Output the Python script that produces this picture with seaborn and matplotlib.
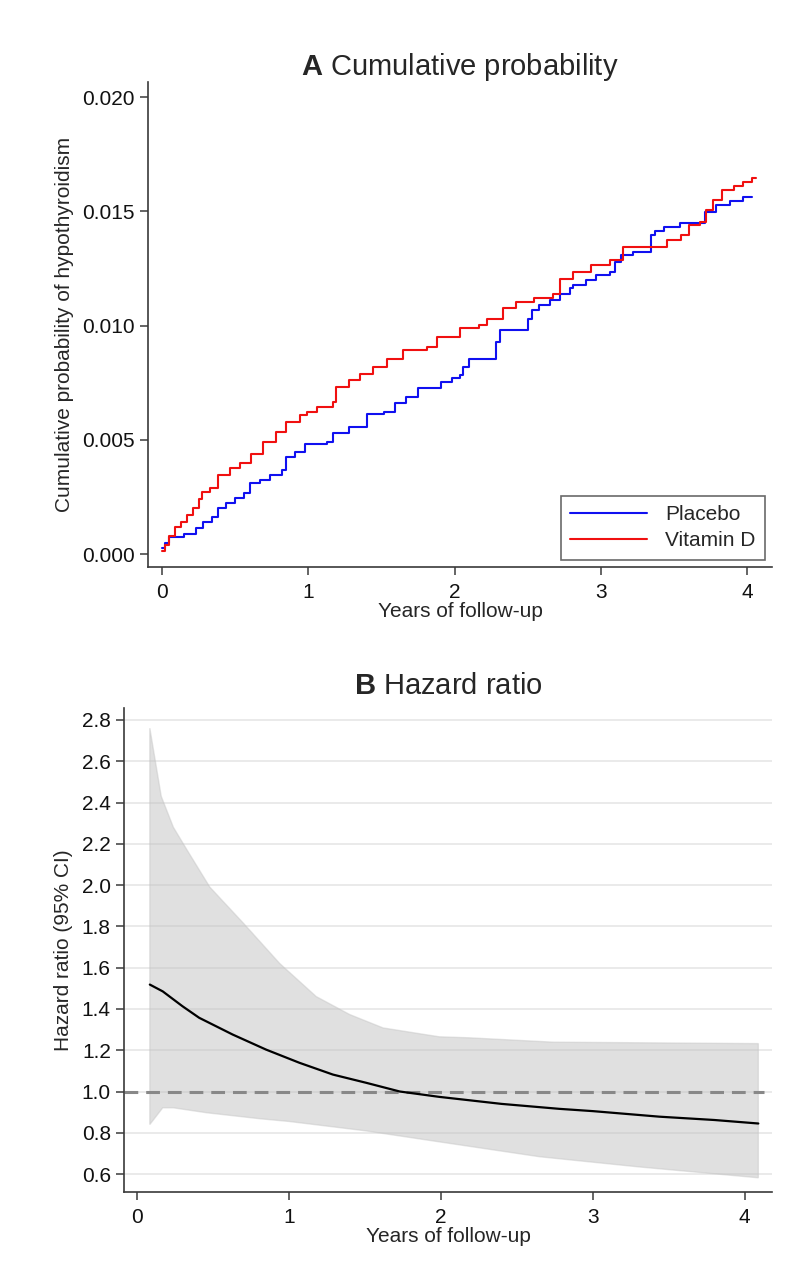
import numpy as np
import pandas as pd
import matplotlib
matplotlib.use("Agg")
import matplotlib.pyplot as plt
import seaborn as sns

# ---------------- data ----------------
vitd_t = [0.00, 0.02, 0.05, 0.09, 0.13, 0.17, 0.21, 0.25, 0.27, 0.33, 0.385, 0.465, 0.53, 0.61,
          0.69, 0.78, 0.85, 0.94, 0.99, 1.06, 1.17, 1.19, 1.28, 1.35, 1.44, 1.54, 1.65, 1.81,
          1.88, 2.04, 2.17, 2.22, 2.33, 2.42, 2.54, 2.67, 2.72, 2.81, 2.93, 3.06, 3.15, 3.45,
          3.55, 3.60, 3.68, 3.72, 3.77, 3.83, 3.91, 3.97, 4.03, 4.06]
vitd_p = [0.00014, 0.0004, 0.0008, 0.0012, 0.0014, 0.0017, 0.0020, 0.0024, 0.0027, 0.0029,
          0.00346, 0.00375, 0.00397, 0.0044, 0.0049, 0.00535, 0.00579, 0.00608, 0.00623,
          0.00645, 0.00666, 0.00732, 0.0076, 0.0079, 0.0082, 0.00856, 0.00893, 0.00907,
          0.0095, 0.0099, 0.01002, 0.01027, 0.01075, 0.01104, 0.01119, 0.0114, 0.01206,
          0.01235, 0.01265, 0.01287, 0.01345, 0.01374, 0.01396, 0.0144, 0.01454, 0.01505,
          0.01549, 0.01593, 0.0161, 0.01629, 0.01648, 0.01648]

plac_t = [0.00, 0.02, 0.05, 0.15, 0.23, 0.28, 0.34, 0.385, 0.44, 0.50, 0.56, 0.60, 0.67, 0.74,
          0.82, 0.85, 0.91, 0.98, 1.13, 1.17, 1.28, 1.40, 1.52, 1.59, 1.67, 1.75, 1.91, 1.98,
          2.04, 2.06, 2.10, 2.28, 2.31, 2.50, 2.53, 2.58, 2.65, 2.72, 2.79, 2.81, 2.90, 2.97,
          3.06, 3.10, 3.14, 3.22, 3.34, 3.37, 3.43, 3.54, 3.71, 3.79, 3.88, 3.97, 4.03]
plac_p = [0.00025, 0.0005, 0.00076, 0.0009, 0.00112, 0.00141, 0.00163, 0.0020, 0.00222,
          0.00244, 0.00266, 0.00309, 0.00324, 0.00346, 0.00368, 0.00426, 0.00448, 0.00484,
          0.0049, 0.00528, 0.00557, 0.00615, 0.00623, 0.0066, 0.00688, 0.00725, 0.00754,
          0.00769, 0.00786, 0.0082, 0.00856, 0.0093, 0.0098, 0.0103, 0.01068, 0.0109, 0.0111,
          0.0114, 0.01163, 0.0118, 0.0120, 0.0122, 0.01235, 0.01279, 0.01308, 0.01323,
          0.01396, 0.01415, 0.01432, 0.0145, 0.01498, 0.01527, 0.01546, 0.01561, 0.01561]

hr_t = [0.085, 0.17, 0.30, 0.41, 0.63, 0.85, 1.07, 1.29, 1.51, 1.73, 1.99, 2.40, 2.78, 3.00,
        3.44, 3.80, 4.09]
hr_v = [1.518, 1.485, 1.413, 1.357, 1.276, 1.203, 1.139, 1.082, 1.042, 1.000, 0.974, 0.940,
        0.916, 0.905, 0.878, 0.862, 0.845]

up_t = [0.085, 0.16, 0.24, 0.33, 0.48, 0.70, 0.94, 1.18, 1.40, 1.62, 1.86, 1.99, 2.19, 2.74, 4.09]
up_v = [2.76, 2.43, 2.28, 2.17, 1.99, 1.816, 1.62, 1.46, 1.373, 1.308, 1.28, 1.265, 1.26, 1.239, 1.232]

lo_t = [0.085, 0.17, 0.24, 0.46, 0.81, 1.00, 1.50, 2.00, 2.65, 3.30, 4.09]
lo_v = [0.84, 0.921, 0.921, 0.897, 0.868, 0.855, 0.81, 0.755, 0.684, 0.635, 0.582]

groups = ["Placebo", "Vitamin D"]
colors = ["#1010f0", "#f01010"]
x_ticks = [0, 1, 2, 3, 4]
yA_ticks = [0.000, 0.005, 0.010, 0.015, 0.020]
yB_ticks = [0.6, 0.8, 1.0, 1.2, 1.4, 1.6, 1.8, 2.0, 2.2, 2.4, 2.6, 2.8]

# ---------------- style ----------------
sns.set_theme(style="white")
plt.rcParams["font.family"] = ["Liberation Sans", "DejaVu Sans"]
plt.rcParams["mathtext.fontset"] = "custom"
plt.rcParams["mathtext.rm"] = "Liberation Sans"
plt.rcParams["mathtext.bf"] = "Liberation Sans:bold"

TICK_FS = 15
LAB_FS = 15
TITLE_FS = 21
SPINE_C = "#3a3a3a"

fig = plt.figure(figsize=(8, 12.83), dpi=100)
axA = fig.add_axes([0.185, 0.558, 0.78, 0.378])
axB = fig.add_axes([0.155, 0.0709, 0.81, 0.3773])

def style_axes(ax):
    for s in ["top", "right"]:
        ax.spines[s].set_visible(False)
    for s in ["left", "bottom"]:
        ax.spines[s].set_color(SPINE_C)
        ax.spines[s].set_linewidth(1.2)
    ax.tick_params(axis="both", which="major", direction="out", length=6, width=1.1,
                   color=SPINE_C, labelsize=TICK_FS, labelcolor="#111111",
                   left=True, bottom=True)
    ax.tick_params(axis="y", pad=3.5)
    ax.tick_params(axis="x", pad=5.5)

# ---------------- panel A ----------------
dfA = pd.concat([
    pd.DataFrame({"t": plac_t, "p": plac_p, "group": groups[0]}),
    pd.DataFrame({"t": vitd_t, "p": vitd_p, "group": groups[1]}),
])
sns.lineplot(data=dfA, x="t", y="p", hue="group", palette=dict(zip(groups, colors)),
             drawstyle="steps-post", linewidth=1.5, estimator=None, sort=False, ax=axA)
axA.set_xlim(-0.096, 4.17)
axA.set_ylim(-0.00057, 0.02066)
axA.set_xticks(x_ticks)
axA.set_yticks(yA_ticks)
axA.set_yticklabels([f"{v:.3f}" for v in yA_ticks])
style_axes(axA)
axA.set_xlabel("Years of follow-up", fontsize=LAB_FS, labelpad=0)
axA.set_ylabel("Cumulative probability of hypothyroidism", fontsize=LAB_FS, labelpad=6)
axA.set_title(r"$\mathbf{A}$ Cumulative probability", fontsize=TITLE_FS, pad=5)
leg = axA.legend(title=None, loc="lower right", fontsize=TICK_FS, frameon=True,
                 fancybox=False, handlelength=3.7, handletextpad=0.85, labelspacing=0.35,
                 borderaxespad=0.35, borderpad=0.45)
leg.get_frame().set_edgecolor("#444444")
leg.get_frame().set_linewidth(1.2)
for h in leg.get_lines():
    h.set_linewidth(1.5)

# ---------------- panel B ----------------
axB.set_axisbelow(True)
axB.yaxis.grid(True, color="#e6e6e6", linewidth=1.2)
axB.xaxis.grid(False)
band_x = np.concatenate([up_t, lo_t[::-1]])
band_y = np.concatenate([up_v, lo_v[::-1]])
axB.fill(band_x, band_y, facecolor="#bcbcbc", alpha=0.45, edgecolor="#c4c4c4",
         linewidth=1.0, zorder=1)
axB.plot([-0.085, 4.13], [1.0, 1.0], color="#888888", linewidth=2.2, dashes=(4.5, 2.6), zorder=2)
sns.lineplot(x=hr_t, y=hr_v, color="black", linewidth=1.6, ax=axB, zorder=3)
axB.set_xlim(-0.085, 4.18)
axB.set_ylim(0.513, 2.858)
axB.set_xticks(x_ticks)
axB.set_yticks(yB_ticks)
axB.set_yticklabels([f"{v:.1f}" for v in yB_ticks])
style_axes(axB)
axB.set_xlabel("Years of follow-up", fontsize=LAB_FS, labelpad=0)
axB.set_ylabel("Hazard ratio (95% CI)", fontsize=LAB_FS, labelpad=6)
axB.set_title(r"$\mathbf{B}$ Hazard ratio", fontsize=TITLE_FS, pad=10)

fig.savefig("out.png", dpi=100, facecolor="white")
